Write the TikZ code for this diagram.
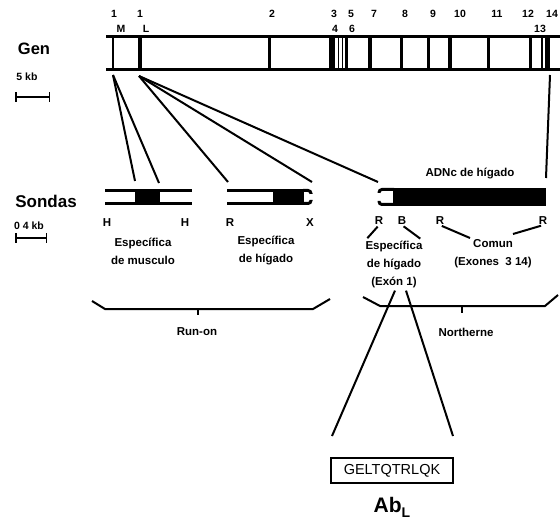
\documentclass[tikz,border=0pt]{standalone}
\usepackage{fontspec}
\setmainfont{Liberation Sans}
\begin{document}
\begin{tikzpicture}[x=1pt,y=-1pt,
  bar/.style={line width=3pt},
  link/.style={line width=2pt},
  num/.style={font=\bfseries\fontsize{10.5}{10.5}\selectfont,inner sep=0pt},
  lbl/.style={font=\bfseries\fontsize{11.5}{18}\selectfont,align=center,inner sep=0pt},
  big/.style={font=\bfseries\fontsize{16.5}{16.5}\selectfont,inner sep=0pt}]
\useasboundingbox (0,0) rectangle (560,524);

% gen
\draw[bar] (106,37) -- (562,37);
\draw[bar] (106,70) -- (562,70);
\foreach \x/\w in {113/1.5,140/4.5,269/3,331.5/6,338.5/1.2,342.5/1.2,346.5/2.5,370/3.5,
  401.5/3,428.5/3,450/3.5,488.5/3,530.5/3,542/1.2,547.5/4.5}
  \draw[line width=\w pt] (\x,37) -- (\x,70);
\foreach \x/\t [count=\i] in {114/1,140/1,272/2,334/3,351/5,374/7,405/8,433/9,460/10,497/11,528/12,552/14}
  \node[num] (n\i) at (\x,14) {\t};
\foreach \x/\t [count=\i] in {121/M,146/L,335/4,352/6,540/13}
  \node[num] (m\i) at (\x,29) {\t};
\node[big] (gen) at (34,49) {Gen};
\node[num] (genkb) at (27,77) {5 kb};
\draw[line width=1.5pt,|-|] (15,97) -- (50,97);

% sondas
\node[big,font=\bfseries\fontsize{17}{17}\selectfont] (sondas) at (46,201) {Sondas};
\node[num] (sondkb) at (29,226) {0 4 kb};
\draw[line width=1.5pt,|-|] (15,238) -- (47,238);

\draw[bar] (105,190.5) -- (192,190.5);
\draw[bar] (105,203.5) -- (192,203.5);
\fill (135,189) rectangle (160,205);

\draw[bar] (227,190.5) -- (273,190.5);
\draw[bar] (227,203.5) -- (273,203.5);
\fill (273,189) rectangle (304,205);
\draw[bar,rounded corners=3pt] (303,190.5) -- (311,190.5) -- (311,194);
\draw[bar,rounded corners=3pt] (303,203.5) -- (311,203.5) -- (311,200);

\fill (393,188) rectangle (546,206);
\draw[bar,rounded corners=3pt] (394,189.5) -- (379,189.5) -- (379,193);
\draw[bar,rounded corners=3pt] (394,204.5) -- (379,204.5) -- (379,201);
\node[lbl] (adnc) at (470,174) {ADNc de hígado};

% gen -> sondas
\coordinate (exM) at (113,75);
\coordinate (exL) at (139,76);
\coordinate (ex13) at (550,75);
\coordinate (p1a) at (135,181);
\coordinate (p1b) at (159,183);
\coordinate (p2a) at (228,182);
\coordinate (p2b) at (312,182);
\coordinate (p3a) at (378,182);
\coordinate (p3b) at (546,178);
\draw[link] (exM) -- (p1a);
\draw[link] (exM) -- (p1b);
\draw[link] (exL) -- (p2a);
\draw[link] (exL) -- (p2b);
\draw[link] (exL) -- (p3a);
\draw[link] (ex13) -- (p3b);

% sitios
\node[lbl] (h1) at (107,223) {H};
\node[lbl] (h2) at (185,223) {H};
\node[lbl] (r1) at (230,223) {R};
\node[lbl] (x1) at (310,223) {X};
\node[lbl] (r2) at (379,221) {R};
\node[lbl] (b1) at (402,221) {B};
\node[lbl] (r3) at (440,221) {R};
\node[lbl] (r4) at (543,221) {R};

\node[lbl] (musc) at (143,251) {Específica\\de musculo};
\node[lbl] (hig) at (266,251) {Específica\\de hígado};
\node[lbl] (exon1) at (394,264) {Específica\\de hígado\\(Exón 1)};
\node[lbl] (comun) at (493,254) {Comun\\(Exones\ \ 3 14)};

\coordinate (cl) at (470,238);
\coordinate (cr) at (513,234);
\draw[link,shorten <=2pt,shorten >=3pt] (r2.south) -- (exon1.north west);
\draw[link,shorten <=2pt,shorten >=3pt] (b1.south) -- (exon1.north east);
\draw[link,shorten <=2pt] (r3.south) -- (cl);
\draw[link,shorten <=2pt] (r4.south) -- (cr);

% llaves
\draw[link] (92,301) -- (105,309) -- (313,309) -- (330,299);
\draw[link] (198,309) -- (198,315);
\node[lbl] (runon) at (197,332) {Run-on};
\draw[link] (363,297) -- (380,306) -- (545,306) -- (558,295);
\draw[link] (462,306) -- (462,313);
\node[lbl] (north) at (466,332) {Northerne};

% peptido
\node[draw,line width=1.5pt,minimum width=122,minimum height=25,inner sep=0pt,
  font=\fontsize{14.5}{14.5}\selectfont] (pep) at (392,470.5) {GELTQTRLQK};
\coordinate (fa) at (332,436);
\coordinate (fb) at (453,436);
\draw[link] ([xshift=1pt,yshift=-3pt]exon1.south) -- (fa);
\draw[link] ([xshift=12pt,yshift=-3pt]exon1.south) -- (fb);
\node[inner sep=0pt] (ab) at (392,507)
  {\bfseries\fontsize{21}{21}\selectfont Ab\raisebox{-5pt}{\fontsize{14}{14}\selectfont L}};
\end{tikzpicture}
\end{document}
